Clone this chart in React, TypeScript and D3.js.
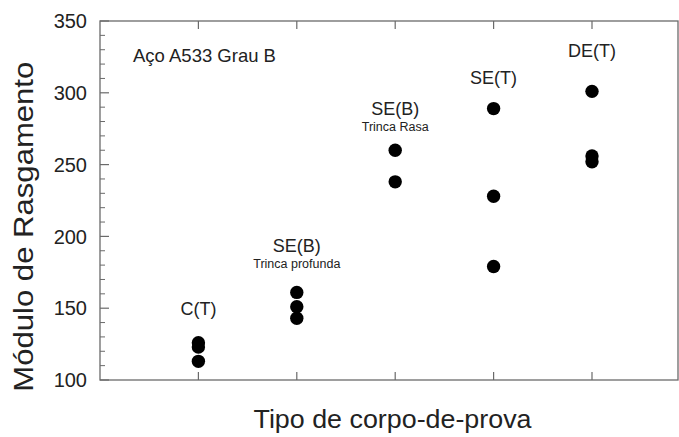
import React from "react";
import * as d3 from "d3";

// tipos de corpo-de-prova (posição 1..5 no eixo x)
const categories = ["C(T)", "SE(B)", "SE(B)", "SE(T)", "DE(T)"];
const subLabels = ["", "Trinca profunda", "Trinca Rasa", "", ""];
// altura (em unidades do eixo y) onde fica a linha de base do rótulo
const labelAt = [145, 189, 284.5, 306, 325];

const ctValues = [126, 123, 113];
const sebDeepValues = [161, 151, 143];
const sebShallowValues = [260, 238];
const setValues = [289, 228, 179];
const detValues = [301, 256, 252];
const seriesValues = [ctValues, sebDeepValues, sebShallowValues, setValues, detValues];

const yMajorTicks = [100, 150, 200, 250, 300, 350];
const title = "Aço A533 Grau B";
const xTitle = "Tipo de corpo-de-prova";
const yTitle = "Módulo de Rasgamento";

const W = 679;
const H = 437;
const margin = { top: 21, left: 100, bottom: 57 };
const right = W - 1;
const axisColor = "#6a6a6a";
const textColor = "#222";
const font = "'Liberation Sans', Arial, Helvetica, sans-serif";

export default function App() {
  const x = d3.scaleLinear().domain([0, 6]).range([margin.left, margin.left + 98.4 * 6]);
  const y = d3.scaleLinear().domain([100, 350]).range([H - margin.bottom, margin.top]);
  const minor = d3.range(100, 351, 10).filter((v) => v % 50 !== 0);
  const xTicks = categories.map((_, i) => i + 1);
  const y0 = y(100);
  const y1 = y(350);

  return (
    <svg
      width={W}
      height={H}
      style={{ position: "absolute", left: 0, top: 0, background: "#fff" }}
      fontFamily={font}
    >
      {/* moldura */}
      <rect
        x={margin.left}
        y={y1}
        width={right - margin.left}
        height={y0 - y1}
        fill="none"
        stroke={axisColor}
        strokeWidth={1.3}
      />

      {/* eixo y */}
      {yMajorTicks.map((t) => (
        <g key={"ym" + t}>
          <line x1={margin.left} x2={margin.left + 9} y1={y(t)} y2={y(t)} stroke={axisColor} strokeWidth={1.2} />
          <text x={87} y={y(t)} dy="0.36em" textAnchor="end" fontSize={20} fill={textColor}>
            {t}
          </text>
        </g>
      ))}
      {minor.map((t) => (
        <line key={"yn" + t} x1={margin.left} x2={margin.left + 5} y1={y(t)} y2={y(t)} stroke={axisColor} strokeWidth={1} />
      ))}

      {/* eixo x (ticks em cima e embaixo) */}
      {xTicks.map((t) => (
        <g key={"xt" + t}>
          <line x1={x(t)} x2={x(t)} y1={y0} y2={y0 - 8} stroke={axisColor} strokeWidth={1.2} />
          <line x1={x(t)} x2={x(t)} y1={y1} y2={y1 + 8} stroke={axisColor} strokeWidth={1.2} />
        </g>
      ))}

      {/* pontos */}
      {seriesValues.map((vals, i) =>
        vals.map((v, j) => <circle key={i + "-" + j} cx={x(i + 1)} cy={y(v)} r={6.7} fill="#000" />)
      )}

      {/* rótulos dos grupos */}
      {categories.map((c, i) => (
        <g key={"lb" + i}>
          <text
            x={x(i + 1)}
            y={y(labelAt[i])}
            textAnchor="middle"
            fontSize={18}
            fill={textColor}
          >
            {c}
          </text>
          {subLabels[i] && (
            <text x={x(i + 1)} y={y(labelAt[i]) + 15.5} textAnchor="middle" fontSize={12.5} fill={textColor}>
              {subLabels[i]}
            </text>
          )}
        </g>
      ))}

      <text x={133} y={61.5} fontSize={18.5} fill={textColor}>
        {title}
      </text>

      {/* títulos dos eixos */}
      <text
        x={392.5}
        y={428}
        textAnchor="middle"
        fontSize={25}
        fill={textColor}
        textLength={278}
        lengthAdjust="spacingAndGlyphs"
      >
        {xTitle}
      </text>
      <text
        transform={`translate(33, ${(61.7 + 391.7) / 2}) rotate(-90)`}
        textAnchor="middle"
        fontSize={27}
        fill={textColor}
        textLength={330}
        lengthAdjust="spacingAndGlyphs"
      >
        {yTitle}
      </text>
    </svg>
  );
}
